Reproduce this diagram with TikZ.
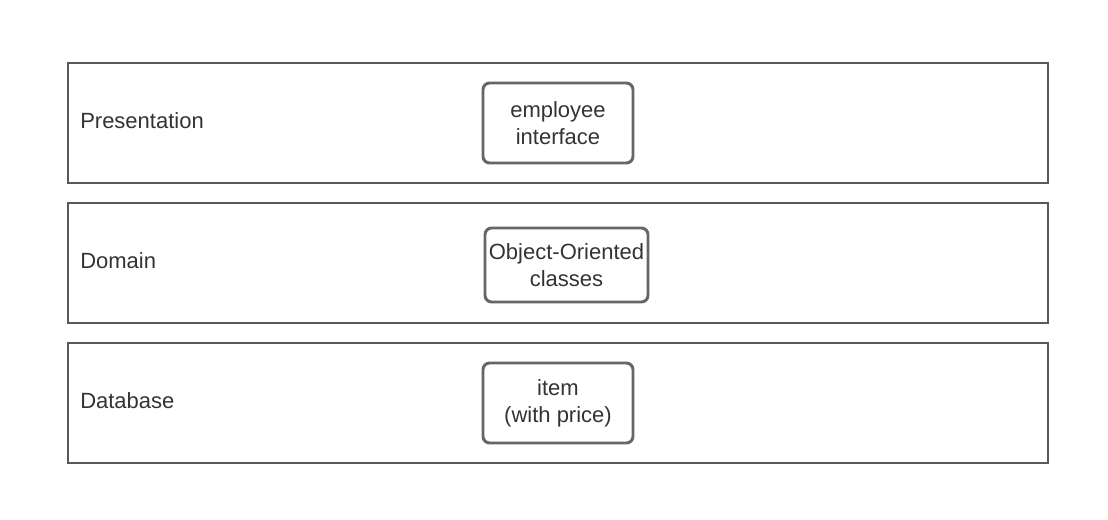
\documentclass[tikz,border=0pt]{standalone}
\usepackage{fontspec}
\setmainfont{Liberation Sans}
\usetikzlibrary{positioning}
\definecolor{rahmen}{RGB}{89,89,89}
\definecolor{kasten}{RGB}{102,102,102}
\definecolor{schrift}{RGB}{51,51,51}

\begin{document}
\begin{tikzpicture}[x=0.75pt, y=-0.75pt,
    layer/.style={draw=rahmen, line width=2.2pt, minimum width=735pt, minimum height=90pt, inner sep=0pt},
    comp/.style={draw=kasten, line width=2.2pt, rounded corners=5pt, align=center, inner sep=0pt, text=schrift, font=\fontsize{16.5}{20.25}\selectfont},
    lbl/.style={anchor=west, inner sep=0pt, text=schrift, font=\fontsize{16.5}{20.25}\selectfont}]

    \useasboundingbox (0,0) rectangle (1108,519);

    % Schichten
    \node[layer] (presentation) at (558,123) {};
    \node[layer] (domain) at (558,263) {};
    \node[layer] (database) at (558,403) {};

    \node[lbl] (presentationlbl) at (80,121) {Presentation};
    \node[lbl] (domainlbl) at (80,261) {Domain};
    \node[lbl] (databaselbl) at (80,401) {Database};

    % Komponenten
    \node[comp, minimum width=112.5pt, minimum height=60pt] (employee) at (558,123) {employee\\interface};
    \node[comp, minimum width=122.25pt, minimum height=55.5pt] (classes) at (566.5,265) {Object-Oriented\\classes};
    \node[comp, minimum width=112.5pt, minimum height=60pt] (item) at (558,403) {item\\(with price)};

\end{tikzpicture}
\end{document}
